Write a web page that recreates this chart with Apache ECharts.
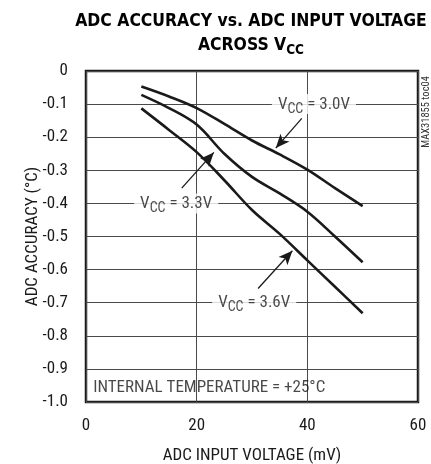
<!DOCTYPE html>
<html>
<head>
<meta charset="utf-8">
<script src="https://cdn.jsdelivr.net/npm/echarts@6/dist/echarts.min.js"></script>
<style>
html,body{margin:0;padding:0;background:#fff;}
#c{width:431px;height:464px;}
</style>
</head>
<body>
<div id="c"></div>
<script>
// ---- data ----
var xTicks = [0, 20, 40, 60];
var yTicks = [0, -0.1, -0.2, -0.3, -0.4, -0.5, -0.6, -0.7, -0.8, -0.9, -1.0];
var inputVoltage = [10, 15, 20, 25, 30, 35, 40, 45, 50];
var vcc30 = [-0.047, -0.077, -0.112, -0.160, -0.210, -0.252, -0.298, -0.354, -0.408];
var vcc33 = [-0.072, -0.112, -0.162, -0.250, -0.320, -0.370, -0.425, -0.500, -0.578];
var vcc36 = [-0.113, -0.178, -0.245, -0.330, -0.420, -0.492, -0.572, -0.652, -0.732];
var labelNames = ['VCC = 3.0V', 'VCC = 3.3V', 'VCC = 3.6V'];
var labelX = [41.2, 16.3, 30.4];
var labelY = [-0.1, -0.4, -0.7];
var arrowFrom = [[39.0, -0.143], [17.3, -0.354], [31.1, -0.657]];
var arrowTo = [[34.3, -0.233], [23.1, -0.246], [37.3, -0.543]];
var noteText = 'INTERNAL TEMPERATURE = +25°C';
var noteX = 1.3, noteY = -0.958;

var FONT = '"Roboto Condensed", "Noto Sans Condensed", "Liberation Sans Narrow", "Arial Narrow", "DejaVu Sans Condensed", sans-serif';
var TFONT = '"DejaVu Sans Condensed", sans-serif';
var INK = '#1a1a1a';
var FS = 17;

function pairs(xs, ys) { return xs.map(function (x, i) { return [x, ys[i]]; }); }

var chart = echarts.init(document.getElementById('c'), null, {renderer: 'canvas'});

var rich = {
  v: {fontFamily: FONT, fontSize: FS, color: INK, lineHeight: 18, verticalAlign: 'bottom'},
  s: {fontFamily: FONT, fontSize: 14, color: INK, lineHeight: 15, verticalAlign: 'bottom', padding: [0, 0, -3, 0]}
};
function vccRich(name) {
  return '{v|V}{s|CC}{v|' + name.slice(3) + '}';
}

var annData = labelNames.map(function (n, i) { return {value: [labelX[i], labelY[i]], name: n}; });

var arrowLines = arrowFrom.map(function (f, i) {
  return [{coord: f}, {coord: arrowTo[i]}];
});

var lineStyle = {color: INK, width: 2.6};

var option = {
  animation: false,
  backgroundColor: '#fff',
  grid: {left: 86, right: 13, top: 71, bottom: 62, show: true, borderColor: INK, borderWidth: 2.5,
    backgroundColor: 'transparent', containLabel: false, outerBoundsMode: 'none'},
  xAxis: {
    type: 'value', min: 0, max: 60, interval: 20,
    name: 'ADC INPUT VOLTAGE (mV)', nameLocation: 'middle', nameGap: 45, nameMoveOverlap: false,
    nameTextStyle: {fontFamily: FONT, fontSize: FS, color: INK},
    axisLine: {show: false}, axisTick: {show: false},
    axisLabel: {fontFamily: FONT, fontSize: FS, color: INK, margin: 15,
      formatter: function (v) { return xTicks.indexOf(v) >= 0 ? String(v) : ''; }},
    splitLine: {show: true, lineStyle: {color: '#4a4a4a', width: 1}}
  },
  yAxis: {
    type: 'value', min: -1, max: 0, interval: 0.1,
    name: 'ADC ACCURACY (°C)', nameLocation: 'middle', nameGap: 45, nameMoveOverlap: false,
    nameTextStyle: {fontFamily: FONT, fontSize: FS, color: INK},
    axisLine: {show: false}, axisTick: {show: false},
    axisLabel: {fontFamily: FONT, fontSize: FS, color: INK, margin: 18,
      formatter: function (v) {
        var r = Math.round(v * 10) / 10;
        if (r === 0) return '0';
        return r.toFixed(1);
      }},
    splitLine: {show: true, lineStyle: {color: '#4a4a4a', width: 1}}
  },
  series: [
    {type: 'line', name: 'VCC = 3.0V', data: pairs(inputVoltage, vcc30), smooth: 0.35, symbol: 'none', lineStyle: lineStyle, z: 3},
    {type: 'line', name: 'VCC = 3.3V', data: pairs(inputVoltage, vcc33), smooth: 0.35, symbol: 'none', lineStyle: lineStyle, z: 3},
    {type: 'line', name: 'VCC = 3.6V', data: pairs(inputVoltage, vcc36), smooth: 0.35, symbol: 'none', lineStyle: lineStyle, z: 3},
    {
      type: 'scatter', name: 'labels', symbolSize: 0, data: annData, z: 5,
      label: {
        show: true, position: 'inside',
        backgroundColor: '#fff', padding: [1, 6, 1, 6],
        formatter: function (p) { return vccRich(p.name); },
        rich: rich
      },
      markLine: {
        silent: true, symbol: ['none', 'arrow'], symbolSize: [9, 14],
        label: {show: false},
        lineStyle: {color: INK, width: 1.3, type: 'solid'},
        data: arrowLines
      }
    },
    {
      type: 'scatter', name: 'note', symbolSize: 0, z: 5,
      data: [{value: [noteX, noteY], name: noteText}],
      label: {show: true, position: 'right', distance: 0, formatter: '{b}',
        fontFamily: FONT, fontSize: FS, color: INK}
    }
  ],
  graphic: [
    {
      type: 'text', x: 251, y: 6,
      style: {
        text: '{t|ADC ACCURACY vs. ADC INPUT VOLTAGE}\n{t|ACROSS V}{u|CC}',
        textAlign: 'center',
        rich: {
          t: {fontFamily: TFONT, fontWeight: 'bold', fontSize: 17.4, fill: '#000', lineHeight: 24, verticalAlign: 'bottom'},
          u: {fontFamily: TFONT, fontWeight: 'bold', fontSize: 13.5, fill: '#000', lineHeight: 18, verticalAlign: 'bottom', padding: [0, 0, -3, 0]}
        }
      }
    },
    {
      type: 'text', x: 432, y: 112, rotation: Math.PI / 2,
      style: {text: 'MAX31855 toc04', font: '10.5px ' + FONT, fill: '#333', textAlign: 'center', textVerticalAlign: 'bottom'}
    }
  ]
};
chart.setOption(option);
</script>
</body>
</html>
